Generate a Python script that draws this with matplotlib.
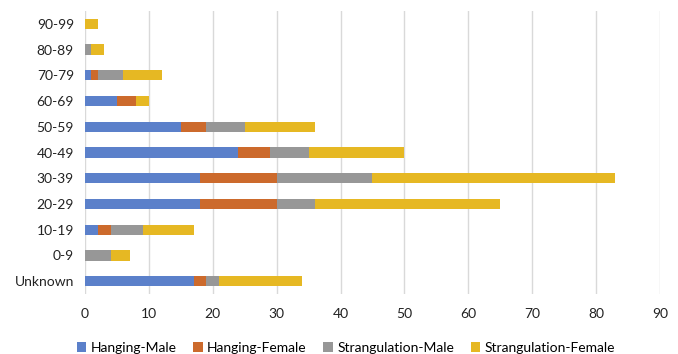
import matplotlib.pyplot as plt
import numpy as np

plt.rcParams['font.family'] = ['Lato', 'DejaVu Sans']

# Age groups, bottom to top
age_groups = ['Unknown', '0-9', '10-19', '20-29', '30-39', '40-49',
              '50-59', '60-69', '70-79', '80-89', '90-99']
hanging_male = [17, 0, 2, 18, 18, 24, 15, 5, 1, 0, 0]
hanging_female = [2, 0, 2, 12, 12, 5, 4, 3, 1, 0, 0]
strangulation_male = [2, 4, 5, 6, 15, 6, 6, 0, 4, 1, 0]
strangulation_female = [13, 3, 8, 29, 38, 15, 11, 2, 6, 2, 2]

series = [
    ('Hanging-Male', hanging_male, '#5B80CA'),
    ('Hanging-Female', hanging_female, '#CC6A2C'),
    ('Strangulation-Male', strangulation_male, '#979797'),
    ('Strangulation-Female', strangulation_female, '#E6B823'),
]

fig = plt.figure(figsize=(6.78, 3.54), dpi=100)
ax = fig.add_axes([0.1254, 0.1695, 0.848, 0.7994])

y = np.arange(len(age_groups))
left = np.zeros(len(age_groups))
for name, vals, color in series:
    ax.barh(y, vals, left=left, height=0.4, color=color, label=name, zorder=3)
    left += np.array(vals)

ax.set_xlim(0, 90)
ax.set_ylim(-0.5, len(age_groups) - 0.5)
ax.set_xticks(np.arange(0, 91, 10))
ax.set_yticks(y)
ax.set_yticklabels(age_groups)
ax.grid(axis='x', color='#d9d9d9', linewidth=1, zorder=0)
for s in ax.spines.values():
    s.set_visible(False)
ax.tick_params(length=0, labelsize=10, colors='#222222', pad=8)
ax.tick_params(axis='x', pad=10)

fig.legend(loc='lower center', bbox_to_anchor=(0.51, -0.035), ncol=4, frameon=False,
           fontsize=10, handlelength=0.7, handleheight=0.7, handletextpad=0.3,
           columnspacing=1.2)

fig.savefig('out.png', dpi=100)
